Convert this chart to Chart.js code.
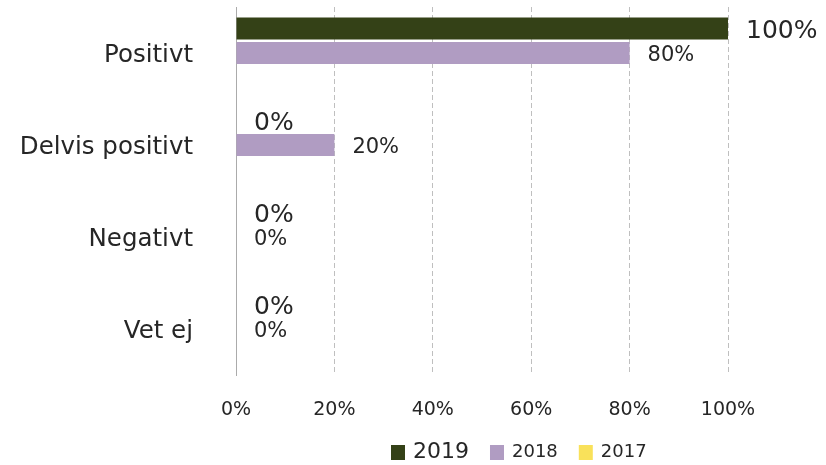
<!DOCTYPE html>
<html>
<head>
<meta charset="utf-8">
<script src="https://cdn.jsdelivr.net/npm/chart.js@4/dist/chart.umd.min.js"></script>
<style>
  body { margin: 0; background: #fff; }
  #wrap { width: 826px; height: 465px; position: relative; }
</style>
</head>
<body>
<div id="wrap"><canvas id="chart"></canvas></div>
<script>
// categories and series (percent)
const categories = ['Positivt', 'Delvis positivt', 'Negativt', 'Vet ej'];
const years = ['2019', '2018', '2017'];
const values2019 = [100, 0, 0, 0];
const values2018 = [80, 20, 0, 0];
const values2017 = [null, null, null, null];
const xTicks = [0, 20, 40, 60, 80, 100];

const colors = ['#344117', '#B09CC2', '#F9E15A'];
const labelSizes = [25, 21, 21];   // value label font size per series
const legendSizes = [22, 18, 18];  // legend text size per series
const textColor = '#262626';

Chart.defaults.font.family = '"DejaVu Sans", Verdana, sans-serif';
Chart.defaults.color = textColor;

// value labels to the right of every bar
const valueLabels = {
    id: 'valueLabels',
    afterDatasetsDraw(chart) {
        const ctx = chart.ctx;
        chart.data.datasets.forEach((ds, i) => {
            const meta = chart.getDatasetMeta(i);
            meta.data.forEach((bar, j) => {
                const v = ds.data[j];
                if (v === null || v === undefined) return;
                ctx.save();
                ctx.font = labelSizes[i] + 'px ' + Chart.defaults.font.family;
                ctx.fillStyle = textColor;
                ctx.textAlign = 'left';
                ctx.textBaseline = 'middle';
                ctx.fillText(v + '%', bar.x + 18, bar.y + 3);
                ctx.restore();
            });
        });
    }
};

// legend with a different text size per item
const customLegend = {
    id: 'customLegend',
    afterDraw(chart) {
        const ctx = chart.ctx;
        let x = chart.chartArea.left + 155;
        const y = chart.height - 13;
        chart.data.datasets.forEach((ds, i) => {
            ctx.save();
            ctx.fillStyle = ds.backgroundColor;
            ctx.fillRect(x, y - 7, 14, 15);
            ctx.font = legendSizes[i] + 'px ' + Chart.defaults.font.family;
            ctx.fillStyle = textColor;
            ctx.textAlign = 'left';
            ctx.textBaseline = 'middle';
            ctx.fillText(ds.label, x + 22, y);
            x += 22 + ctx.measureText(ds.label).width + 21;
            ctx.restore();
        });
    }
};

new Chart(document.getElementById('chart').getContext('2d'), {
    type: 'bar',
    data: {
        labels: categories,
        datasets: [
            { label: years[0], data: values2019, backgroundColor: colors[0] },
            { label: years[1], data: values2018, backgroundColor: colors[1] },
            { label: years[2], data: values2017, backgroundColor: colors[2] }
        ]
    },
    options: {
        indexAxis: 'y',
        responsive: true,
        maintainAspectRatio: false,
        animation: false,
        categoryPercentage: 0.8,
        barPercentage: 0.9,
        layout: { padding: { top: 7, right: 98, left: 0, bottom: 0 } },
        plugins: {
            legend: { display: false },
            tooltip: { enabled: false }
        },
        scales: {
            x: {
                min: 0,
                max: 100,
                afterBuildTicks: s => { s.ticks = xTicks.map(v => ({ value: v })); },
                afterFit: s => { s.height = 90; },
                grid: { color: '#BFBFBF', drawTicks: false },
                border: { display: false, dash: [5, 3] },
                ticks: {
                    padding: 24,
                    font: { size: 19 },
                    callback: v => v + '%'
                }
            },
            y: {
                afterFit: s => { s.width = 236; s.paddingTop = 0; s.paddingBottom = 0; },
                grid: { display: false, drawTicks: false },
                border: { display: true, color: '#ABABAB', width: 1 },
                ticks: { padding: 43, labelOffset: 3, font: { size: 24.5 } }
            }
        }
    },
    plugins: [valueLabels, customLegend]
});
</script>
</body>
</html>
